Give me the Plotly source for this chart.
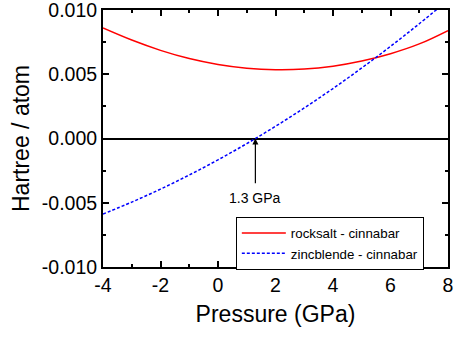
import plotly.graph_objects as go

pressure = [-4, -3, -2, -1, 0, 1, 2, 3, 4, 5, 6, 7, 8]
rocksalt = [0.0086, 0.00766, 0.00686, 0.00622, 0.00576, 0.00547, 0.00535, 0.0054, 0.00563, 0.00603, 0.0066, 0.00736, 0.0084]
zincblende = [-0.00588, -0.00495, -0.00394, -0.00284, -0.00166, -0.0004, 0.00095, 0.00238, 0.00389, 0.00549, 0.00717, 0.00893, 0.01077]

x_range = [-4, 8]
y_range = [-0.010, 0.010]
x_ticks = [-4, -2, 0, 2, 4, 6, 8]
x_ticktext = ["-4", "-2", "0", "2", "4", "6", "8"]
y_ticks = [-0.010, -0.005, 0.0, 0.005, 0.010]
y_ticktext = ["-0.010", "-0.005", "0.000", "0.005", "0.010"]

transition_p = 1.3
transition_label = "1.3 GPa"

font = "Liberation Sans, Arial, sans-serif"

fig = go.Figure()
fig.add_trace(go.Scatter(x=pressure, y=rocksalt, mode="lines", name="rocksalt - cinnabar",
                         line=dict(color="#ff0000", width=1.5, shape="spline")))
fig.add_trace(go.Scatter(x=pressure, y=zincblende, mode="lines", name="zincblende - cinnabar",
                         line=dict(color="#0000ff", width=1.5, dash="3px,2px", shape="spline")))

fig.add_annotation(x=transition_p, y=0, ax=transition_p, ay=-0.0036, xref="x", yref="y",
                   axref="x", ayref="y", showarrow=True, arrowhead=2, arrowsize=1,
                   arrowwidth=1.2, arrowcolor="black", text="")
fig.add_annotation(x=transition_p, y=-0.0036, yshift=-3, text=transition_label, showarrow=False,
                   yanchor="top", font=dict(size=14, color="black", family=font))

fig.update_layout(template="none")

fig.update_xaxes(range=x_range, tickmode="array", tickvals=x_ticks, ticktext=x_ticktext,
                 showline=True, linecolor="black", linewidth=2, mirror="allticks",
                 ticks="inside", ticklen=6, tickwidth=2, tickcolor="black",
                 minor=dict(ticks="inside", ticklen=3, tickwidth=2, tickcolor="black",
                            dtick=1, tick0=0, showgrid=False),
                 showgrid=False, zeroline=False, ticklabeloverflow="allow",
                 tickfont=dict(size=19.5, color="black", family=font),
                 title=dict(text="Pressure (GPa)", font=dict(size=23, color="black", family=font), standoff=10))
fig.update_yaxes(range=y_range, tickmode="array", tickvals=y_ticks, ticktext=y_ticktext,
                 showline=True, linecolor="black", linewidth=2, mirror="allticks",
                 ticks="inside", ticklen=6, tickwidth=2, tickcolor="black",
                 minor=dict(ticks="inside", ticklen=3, tickwidth=2, tickcolor="black",
                            dtick=0.0025, tick0=0, showgrid=False),
                 showgrid=False, ticklabeloverflow="allow",
                 zeroline=True, zerolinecolor="black", zerolinewidth=1.8,
                 tickfont=dict(size=19.5, color="black", family=font),
                 title=dict(text="Hartree / atom", font=dict(size=23, color="black", family=font), standoff=6))

fig.update_layout(
    width=454, height=338, autosize=False,
    margin=dict(l=103, r=6, t=10, b=71),
    plot_bgcolor="white", paper_bgcolor="white",
    font=dict(family=font, color="black"),
    legend=dict(x=0.385, y=0.195, xanchor="left", yanchor="top",
                bordercolor="black", borderwidth=1, bgcolor="white",
                font=dict(size=13.3, color="black", family=font),
                itemwidth=44, tracegroupgap=0),
    showlegend=True,
)

fig.write_html("out.html")
